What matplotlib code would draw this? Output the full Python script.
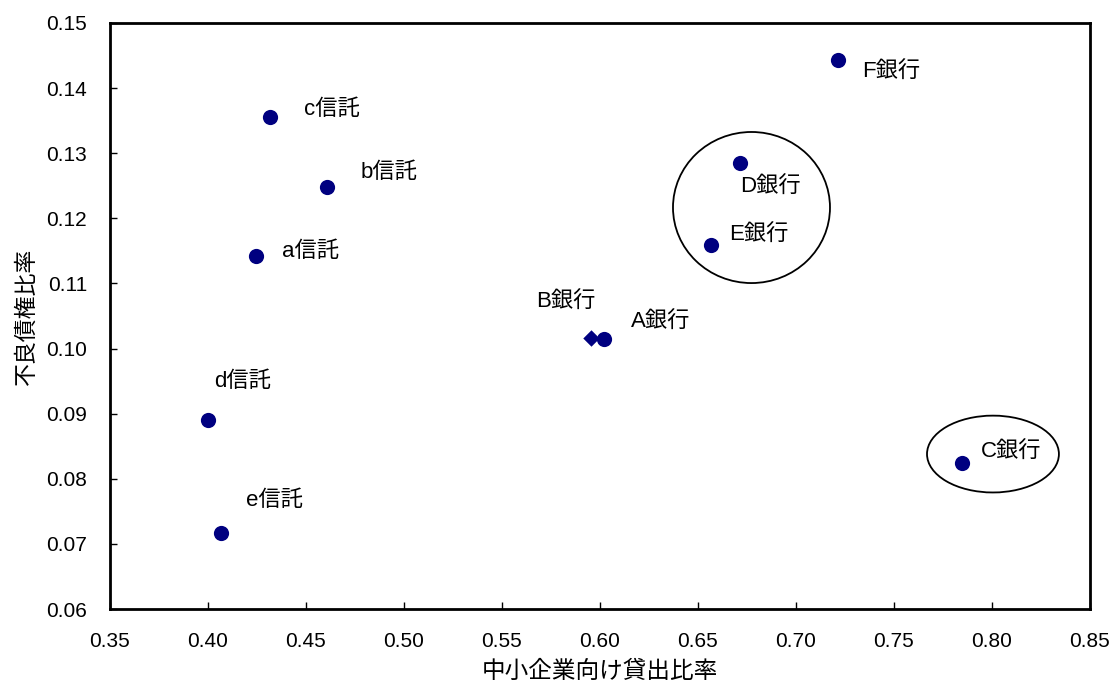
import matplotlib
matplotlib.use("Agg")
import matplotlib.pyplot as plt
from matplotlib.patches import Ellipse

plt.rcParams['font.family'] = ['Liberation Sans', 'Noto Sans CJK JP', 'DejaVu Sans']

# Institutions: SME loan ratio vs. non-performing loan ratio
names = ["F銀行", "c信託", "b信託", "D銀行", "E銀行", "a信託",
         "B銀行", "A銀行", "d信託", "C銀行", "e信託"]
sme_ratio = [0.7214, 0.4316, 0.4607, 0.6714, 0.6566, 0.4245,
             0.5954, 0.6020, 0.4000, 0.7847, 0.4066]
npl_ratio = [0.1443, 0.1356, 0.1248, 0.1285, 0.1159, 0.1142,
             0.1016, 0.1015, 0.0890, 0.0824, 0.0717]
markers = ["o", "o", "o", "o", "o", "o", "D", "o", "o", "o", "o"]
# label offsets (pixels) from each point
label_dx = [24, 34, 34, 0, 18, 26, -55, 27, 6, 19, 25]
label_dy = [-12, 7, 15, -24, 10, 5, 36, 16, 39, 11, 32]

x_ticks = [0.35, 0.40, 0.45, 0.50, 0.55, 0.60, 0.65, 0.70, 0.75, 0.80, 0.85]
y_ticks = [0.06, 0.07, 0.08, 0.09, 0.10, 0.11, 0.12, 0.13, 0.14, 0.15]

fig = plt.figure(figsize=(11.12, 6.86), dpi=100)
ax = fig.add_axes([0.0989, 0.1122, 0.8813, 0.8543])

marker_color = "#000080"
for x, y, m in zip(sme_ratio, npl_ratio, markers):
    size = 120 if m == "o" else 70
    ax.scatter([x], [y], s=size, marker=m, color=marker_color, zorder=3,
               linewidths=0)

for name, x, y, dx, dy in zip(names, sme_ratio, npl_ratio, label_dx, label_dy):
    ax.annotate(name, (x, y), xytext=(dx, dy), textcoords="offset pixels",
                ha="left", va="center", fontsize=16, color="black")

# highlight groups
ax.add_patch(Ellipse((0.6773, 0.12166), 0.0801, 0.0232, fill=False,
                     edgecolor="black", linewidth=1.3, zorder=2))
ax.add_patch(Ellipse((0.8005, 0.0838), 0.0673, 0.0118, fill=False,
                     edgecolor="black", linewidth=1.3, zorder=2))

ax.set_xlim(0.35, 0.85)
ax.set_ylim(0.06, 0.15)
ax.set_xticks(x_ticks)
ax.set_yticks(y_ticks)
ax.set_xticklabels([f"{v:.2f}" for v in x_ticks])
ax.set_yticklabels([f"{v:.2f}" for v in y_ticks])
ax.tick_params(direction="in", length=5, width=1, labelsize=15, pad=16.5,
               colors="black")

for s in ax.spines.values():
    s.set_linewidth(2)
    s.set_color("black")

ax.set_xlabel("中小企業向け貸出比率", fontsize=17, labelpad=7)
ax.set_ylabel("不良債権比率", fontsize=16.5, labelpad=6)

fig.savefig("out.png", dpi=100)
